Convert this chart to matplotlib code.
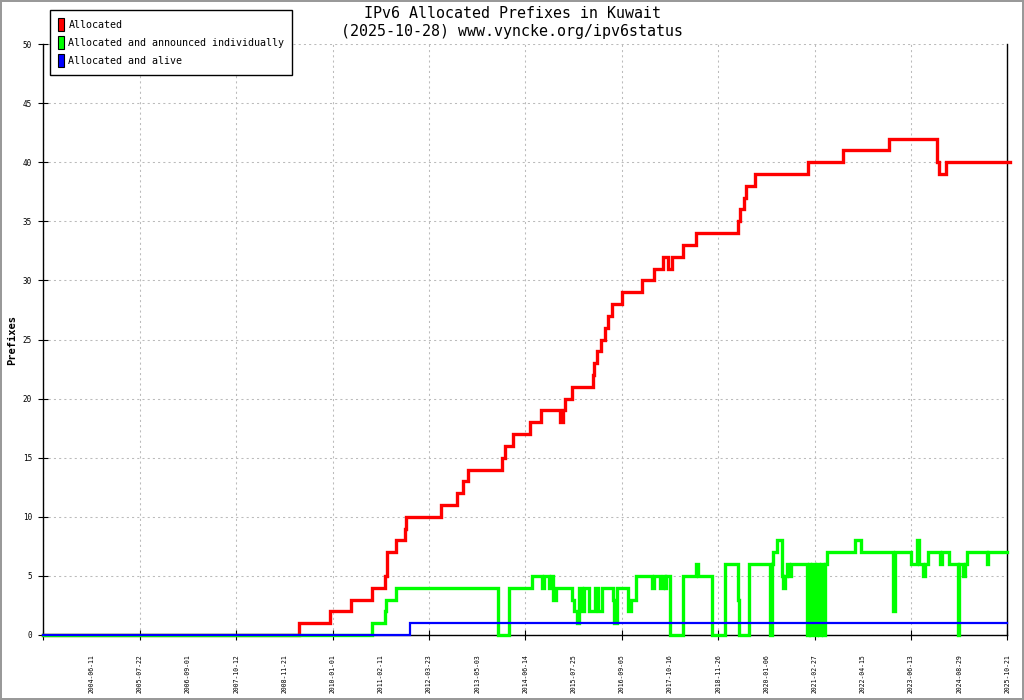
import matplotlib
matplotlib.use("Agg")
import matplotlib.pyplot as plt
from matplotlib.patches import Patch

# ---- data (x = position along the sampled time axis, in tick-label units) ----
tick_labels = ["2004-06-11", "2005-07-22", "2006-09-01", "2007-10-12", "2008-11-21",
               "2010-01-01", "2011-02-11", "2012-03-23", "2013-05-03", "2014-06-14",
               "2015-07-25", "2016-09-05", "2017-10-16", "2018-11-26", "2020-01-06",
               "2021-02-27", "2022-04-15", "2023-06-13", "2024-08-29", "2025-10-21"]

alloc_x = [0, 5.305, 5.948, 6.384, 6.819, 7.095, 7.131, 7.317, 7.510, 7.535,
           8.257, 8.577, 8.707, 8.811, 9.517, 9.583, 9.745, 10.097, 10.332, 10.720,
           10.772, 10.830, 10.975, 11.398, 11.425, 11.494, 11.577, 11.660, 11.722, 11.793,
           12.012, 12.427, 12.676, 12.863, 12.967, 13.037, 13.278, 13.541, 14.419, 14.444,
           14.544, 14.579, 14.772, 15.871, 16.598, 17.546, 18.548, 18.583, 18.734, 20.05]
alloc_y = [0, 1, 2, 3, 4, 5, 7, 8, 9, 10,
           11, 12, 13, 14, 15, 16, 17, 18, 19, 18,
           19, 20, 21, 22, 23, 24, 25, 26, 27, 28,
           29, 30, 31, 32, 31, 32, 33, 34, 35, 36,
           37, 38, 39, 40, 41, 42, 40, 39, 40, 40]

announced_x = [0, 6.813, 7.089, 7.116, 7.311, 9.440, 9.662, 10.139, 10.340, 10.388,
               10.492, 10.533, 10.575, 10.637, 10.963, 11.017, 11.066, 11.120, 11.170, 11.224,
               11.328, 11.446, 11.515, 11.585, 11.813, 11.840, 11.909, 12.137, 12.187, 12.297,
               12.622, 12.670, 12.795, 12.863, 12.898, 12.929, 13.002, 13.272, 13.548, 13.573,
               13.867, 14.143, 14.419, 14.440, 14.641, 15.077, 15.108, 15.145, 15.216, 15.320,
               15.340, 15.388, 15.423, 15.477, 15.506, 15.838, 15.886, 15.907, 15.948, 16.010,
               16.062, 16.083, 16.135, 16.176, 16.228, 16.253, 16.841, 16.959, 17.635, 17.664,
               18.002, 18.127, 18.174, 18.257, 18.293, 18.361, 18.604, 18.645, 18.797, 18.971,
               18.998, 19.075, 19.122, 19.158, 19.573, 19.606, 20.0]
announced_y = [0, 1, 2, 3, 4, 0, 4, 5, 4, 5,
               4, 5, 3, 4, 3, 2, 1, 4, 2, 4,
               2, 4, 2, 4, 3, 1, 4, 2, 3, 5,
               4, 5, 4, 5, 4, 5, 0, 5, 6, 5,
               0, 6, 3, 0, 6, 0, 6, 7, 8, 5,
               4, 5, 6, 5, 6, 0, 6, 0, 6, 0,
               6, 0, 6, 0, 6, 7, 8, 7, 2, 7,
               6, 8, 6, 5, 6, 7, 6, 7, 6, 0,
               6, 5, 6, 7, 6, 7, 7]

alive_x = [0, 7.608, 20.0]
alive_y = [0, 1, 1]

title1 = "IPv6 Allocated Prefixes in Kuwait"
title2 = "(2025-10-28) www.vyncke.org/ipv6status"
series_names = ["Allocated", "Allocated and announced individually", "Allocated and alive"]
series_colors = ["#ff0000", "#00ff00", "#0000ff"]

# ---- figure ----
mono = "DejaVu Sans Mono"
fig = plt.figure(figsize=(10.24, 7.0), dpi=100)
fig.patch.set_facecolor("white")
fig.patch.set_edgecolor("#999999")
fig.patch.set_linewidth(1.5)

ax = fig.add_axes([43.3 / 1024, 65 / 700, (1007.3 - 43.3) / 1024, (635 - 44) / 700])
ax.set_xlim(0, 20)
ax.set_ylim(0, 50)

ax.step(alloc_x, alloc_y, where="post", color=series_colors[0], lw=2.4,
        solid_joinstyle="miter", zorder=3, clip_on=False)
ax.step(announced_x, announced_y, where="post", color=series_colors[1], lw=2.4,
        solid_joinstyle="miter", zorder=4, clip_on=False)
ax.step(alive_x, alive_y, where="post", color=series_colors[2], lw=1.6,
        solid_joinstyle="miter", zorder=5, clip_on=False)

# spines
ax.spines["top"].set_visible(False)
for s in ["left", "bottom", "right"]:
    ax.spines[s].set_color("black")
    ax.spines[s].set_linewidth(1.0)

# y axis
ax.set_yticks(range(0, 51, 5))
ax.tick_params(axis="y", which="major", direction="inout", length=7.2, width=0.8,
               pad=4.5, labelsize=5.5)
for lab in ax.get_yticklabels():
    lab.set_fontfamily(mono)

# x axis: labels at every position, tick marks / grid at every other
ax.xaxis.remove_overlapping_locs = False
ax.set_xticks(range(0, 21))
ax.set_xticklabels([""] + tick_labels, rotation=90, fontfamily=mono, fontsize=4.7)
ax.tick_params(axis="x", which="major", length=0, pad=14)
ax.set_xticks(range(0, 21, 2), minor=True)
ax.tick_params(axis="x", which="minor", direction="inout", length=7.2, width=0.8)

grid_kw = dict(color="#bbbbbb", linewidth=0.75, linestyle=(0, (2, 3)))
ax.grid(False)
ax.xaxis.grid(True, which="minor", **grid_kw)
ax.yaxis.grid(True, which="major", **grid_kw)
ax.set_axisbelow(True)

# titles and y label
fig.text(512 / 1024, 1 - 13 / 700, title1, ha="center", va="center",
         fontfamily=mono, fontsize=10.8)
fig.text(512 / 1024, 1 - 31.5 / 700, title2, ha="center", va="center",
         fontfamily=mono, fontsize=10.8)
fig.text(12 / 1024, 1 - 340 / 700, "Prefixes", rotation=90, ha="center", va="center",
         fontfamily=mono, fontsize=7.5, fontweight="bold")

# legend
handles = [Patch(facecolor=c, edgecolor="black", linewidth=0.8) for c in series_colors]
leg = fig.legend(handles, series_names, loc="upper left",
                 bbox_to_anchor=(50 / 1024, 1 - 10 / 700), bbox_transform=fig.transFigure,
                 prop={"family": mono, "size": 7.2}, fancybox=False, framealpha=1,
                 edgecolor="black", handlelength=0.6, handleheight=1.7,
                 handletextpad=0.5, borderpad=0.75, labelspacing=0.45, borderaxespad=0)
leg.get_frame().set_linewidth(1.0)

fig.savefig("out.png", dpi=100, facecolor=fig.get_facecolor(), edgecolor=fig.get_edgecolor())
